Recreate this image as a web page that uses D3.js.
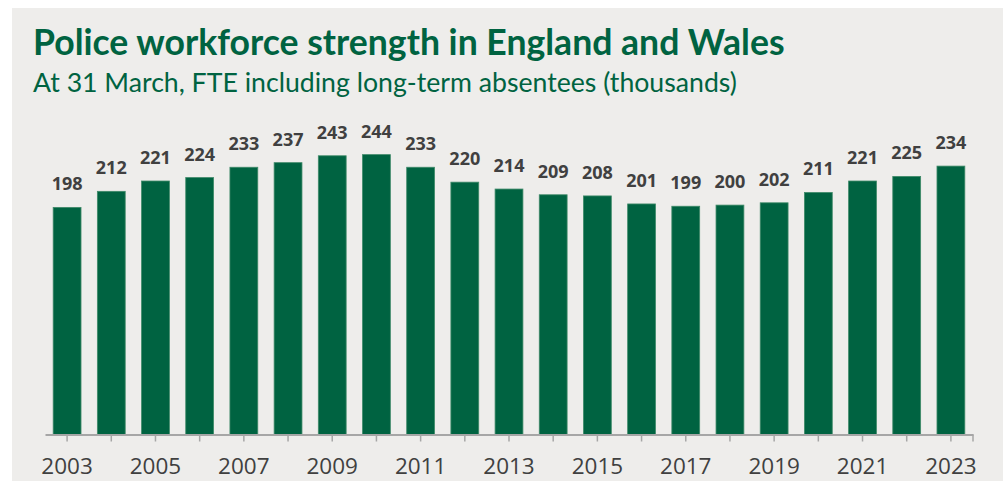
<!DOCTYPE html>
<html>
<head>
<meta charset="utf-8">
<script src="https://cdn.jsdelivr.net/npm/d3@7/dist/d3.min.js"></script>
<style>
  html, body { margin: 0; padding: 0; background: #ffffff; }
  svg { display: block; }
</style>
</head>
<body>
<script>
// Police workforce, FTE thousands, at 31 March each year
const years = [2003, 2004, 2005, 2006, 2007, 2008, 2009, 2010, 2011, 2012, 2013,
               2014, 2015, 2016, 2017, 2018, 2019, 2020, 2021, 2022, 2023];
const workforce = [198, 212, 221, 224, 233, 237, 243, 244, 233, 220, 214,
                   209, 208, 201, 199, 200, 202, 211, 221, 225, 234];
const labelledYears = [2003, 2005, 2007, 2009, 2011, 2013, 2015, 2017, 2019, 2021, 2023];

const titleText = "Police workforce strength in England and Wales";
const subtitleText = "At 31 March, FTE including long-term absentees (thousands)";

const W = 1003, H = 481;
const green = "#006341";

const svg = d3.select("body").append("svg")
  .attr("width", W).attr("height", H);

// panel background
svg.append("rect")
  .attr("x", 12).attr("y", 8)
  .attr("width", W - 12).attr("height", H - 8)
  .attr("fill", "#eeedeb");

// fit a text element to a target width by adjusting its font size
function fitWidth(sel, target) {
  const fs = parseFloat(sel.attr("font-size"));
  const w = sel.node().getComputedTextLength();
  sel.attr("font-size", (fs * target / w).toFixed(2));
}

const title = svg.append("text")
  .attr("x", 33).attr("y", 55)
  .attr("font-family", "Lato, 'Open Sans', sans-serif")
  .attr("font-weight", 700)
  .attr("font-size", 31)
  .attr("fill", green)
  .text(titleText);
fitWidth(title, 752);

const subtitle = svg.append("text")
  .attr("x", 33).attr("y", 92)
  .attr("font-family", "Lato, 'Open Sans', sans-serif")
  .attr("font-weight", 400)
  .attr("font-size", 22)
  .attr("fill", green)
  .text(subtitleText);
fitWidth(subtitle, 704);

// scales
const x = d3.scaleBand()
  .domain(years)
  .range([45, 973])
  .paddingInner(0.37)
  .paddingOuter(0.185);

const baseY = 434.5;
const y = d3.scaleLinear()
  .domain([0, 250])
  .range([baseY, baseY - 250 * 1.147]);

const data = years.map((yr, i) => ({ year: yr, value: workforce[i] }));

// bars
svg.append("g")
  .selectAll("rect")
  .data(data)
  .join("rect")
  .attr("x", d => x(d.year))
  .attr("y", d => y(d.value))
  .attr("width", x.bandwidth())
  .attr("height", d => y(0) - y(d.value))
  .attr("fill", green)
  .attr("stroke", "#3f8a69")
  .attr("stroke-width", 0.8);

// value labels
svg.append("g")
  .selectAll("text")
  .data(data)
  .join("text")
  .attr("x", d => x(d.year) + x.bandwidth() / 2)
  .attr("y", d => y(d.value) - 17)
  .attr("text-anchor", "middle")
  .attr("font-family", "'Open Sans', sans-serif")
  .attr("font-weight", 700)
  .attr("font-size", 18)
  .attr("fill", "#404040")
  .text(d => d.value);

// x axis
const axis = d3.axisBottom(x)
  .tickValues(years)
  .tickSize(7)
  .tickSizeOuter(0)
  .tickFormat(d => labelledYears.includes(d) ? d : "");

const gx = svg.append("g")
  .attr("transform", `translate(0,${baseY})`)
  .call(axis);

gx.select(".domain").attr("stroke", "#a6a6a6").attr("stroke-width", 2);
gx.selectAll(".tick line").attr("stroke", "#a6a6a6").attr("stroke-width", 1.5);
gx.selectAll(".tick text")
  .attr("font-family", "'Open Sans', sans-serif")
  .attr("font-size", 22.5)
  .attr("fill", "#404040")
  .attr("dy", 0)
  .attr("y", 39.5);

// closing tick at the right end of the axis
gx.append("line")
  .attr("x1", x.range()[1]).attr("x2", x.range()[1])
  .attr("y1", 0).attr("y2", 7)
  .attr("stroke", "#a6a6a6").attr("stroke-width", 1.5);
</script>
</body>
</html>
